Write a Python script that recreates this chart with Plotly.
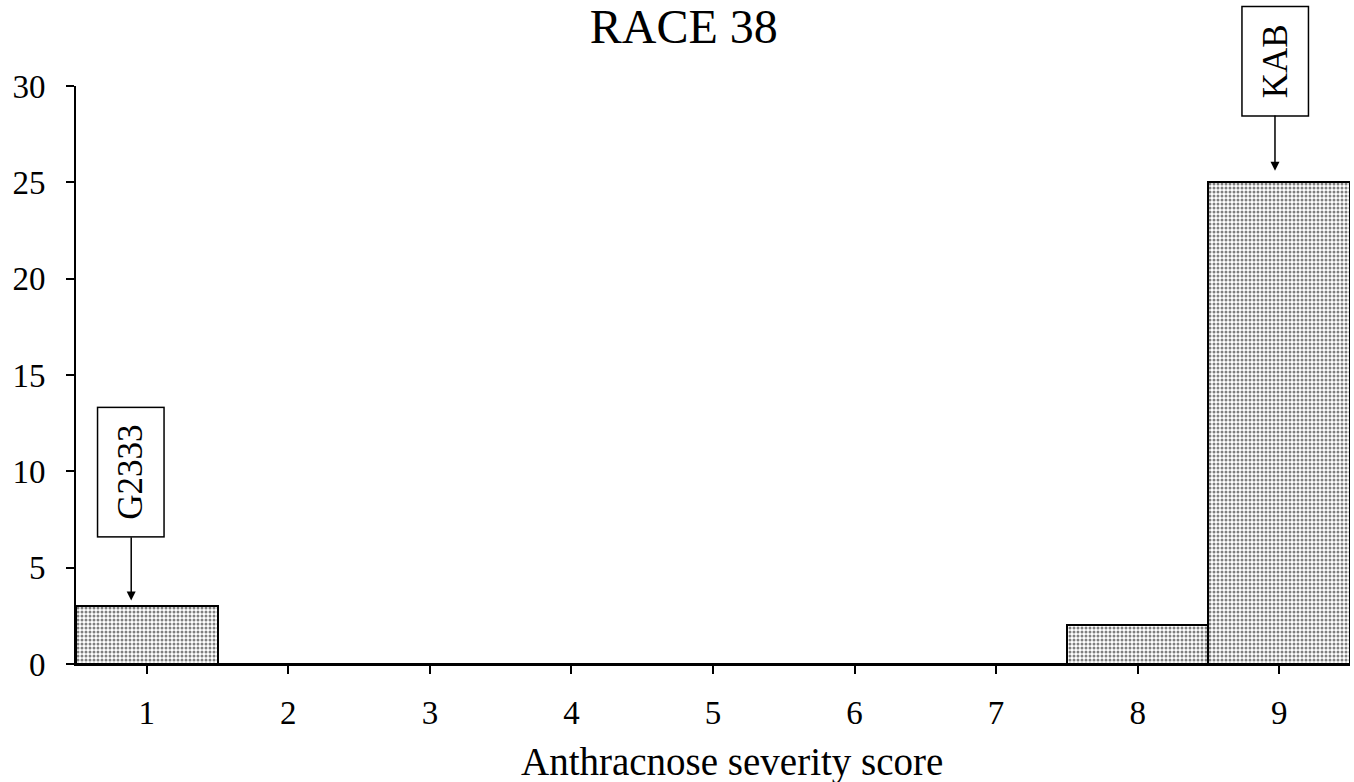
import plotly.graph_objects as go

scores = [1, 2, 3, 4, 5, 6, 7, 8, 9]
counts = [3, 0, 0, 0, 0, 0, 0, 2, 25]
y_ticks = [0, 5, 10, 15, 20, 25, 30]
labels = ["G2333", "KAB"]
label_x = [0.89, 8.97]
label_y = [3.3, 25.6]
label_ay = [-128, -110]
label_len = [128, 108]

FONT = "Liberation Serif, Times New Roman, serif"

fig = go.Figure()
fig.add_trace(go.Bar(
    x=scores, y=counts,
    width=1.0,
    marker=dict(
        color="white",
        line=dict(color="black", width=2),
        pattern=dict(shape=".", fgcolor="black", bgcolor="white", size=4, solidity=0.45),
    ),
))

for lab, lx, ly, ay, ln in zip(labels, label_x, label_y, label_ay, label_len):
    fig.add_annotation(
        x=lx, y=ly, xref="x", yref="y", text=lab, textangle=-90,
        showarrow=True, arrowhead=2, arrowsize=1.2, arrowwidth=1.5, arrowcolor="black",
        ax=0, ay=ay, bordercolor="black", borderwidth=1.5, borderpad=0,
        width=ln, height=65,
        bgcolor="white", font=dict(family=FONT, size=35, color="black"),
    )

# x-axis title as text placed like the reference
fig.add_annotation(
    text="Anthracnose severity score", xref="paper", yref="paper",
    x=0.515, y=-0.169, xanchor="center", yanchor="middle", showarrow=False,
    font=dict(family=FONT, size=39, color="black"),
)

# small closing tick at the right end of the x axis
fig.add_shape(type="line", xref="x", yref="y", ysizemode="pixel", yanchor=0,
              x0=9.5, x1=9.5, y0=0, y1=-8, line=dict(color="black", width=2))

fig.update_layout(
    width=1354, height=782,
    margin=dict(l=76, r=4, t=86, b=118),
    plot_bgcolor="white", paper_bgcolor="white",
    showlegend=False,
    bargap=0,
    title=dict(text="RACE 38", x=0.505, xref="container", xanchor="center",
               y=0.966, yref="container", yanchor="middle",
               font=dict(family=FONT, size=48, color="black")),
    font=dict(family=FONT, size=33, color="black"),
)
fig.update_xaxes(
    range=[0.5, 9.5], tickvals=scores, ticktext=[str(s) for s in scores],
    showline=True, linecolor="black", linewidth=2, ticks="outside", ticklen=8,
    tickcolor="black", tickwidth=2, showgrid=False, zeroline=False,
    ticklabelstandoff=10,
)
fig.update_yaxes(
    range=[0, 30], tickvals=y_ticks, showline=True, linecolor="black", linewidth=2,
    ticks="outside", ticklen=8, tickcolor="black", tickwidth=2,
    showgrid=False, zeroline=False, ticklabelstandoff=14,
)

fig.write_html("out.html")
